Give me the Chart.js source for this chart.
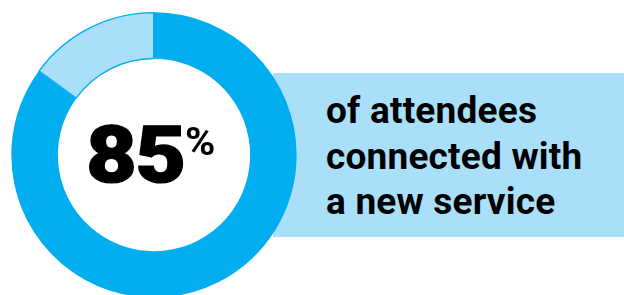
<!DOCTYPE html>
<html>
<head>
<meta charset="utf-8">
<script src="https://cdn.jsdelivr.net/npm/chart.js@4"></script>
<style>
  html, body { margin: 0; padding: 0; width: 624px; height: 295px; overflow: hidden; background: #fff; }
  #band { position: absolute; left: 273px; top: 73px; width: 351px; height: 164px; background: #A9DFF9; z-index: 0; }
  #wrap { position: absolute; left: 11px; top: 12px; width: 286px; height: 286px; z-index: 1; }
  .t { position: absolute; z-index: 2; font-family: Roboto, "Liberation Sans", sans-serif; color: #000; white-space: nowrap; }
  #big { left: 86px; top: 115px; font-size: 80px; line-height: 80px; font-weight: 900; letter-spacing: -1.5px; -webkit-text-stroke: 1.2px #000; transform: scaleX(1.1); transform-origin: left top; }
  #pct { left: 185px; top: 123px; font-size: 38px; line-height: 38px; font-weight: 700; transform: scaleX(1.08); transform-origin: left top; }
  #label { left: 326px; top: 88px; font-weight: 700; font-size: 37px; line-height: 45.5px; letter-spacing: 0.2px; }
</style>
</head>
<body>
<div id="band"></div>
<div id="wrap"><canvas id="c" width="286" height="286"></canvas></div>
<div id="big" class="t"></div>
<div id="pct" class="t">%</div>
<div id="label" class="t"></div>
<script>
const categories = ["Connected with a new service", "Did not"];
const values = [85, 15];
const labelLines = ["of attendees", "connected with", "a new service"];

document.getElementById('big').textContent = String(values[0]);
const lab = document.getElementById('label');
labelLines.forEach((s, i) => {
  if (i) lab.appendChild(document.createElement('br'));
  lab.appendChild(document.createTextNode(s));
});

new Chart(document.getElementById('c'), {
  type: 'doughnut',
  data: {
    labels: categories,
    datasets: [{
      data: values,
      backgroundColor: ['#00AEEF', '#A9DFF9'],
      borderColor: ['#00AEEF', '#00AEEF'],
      borderWidth: [0, 1],
      borderAlign: 'inner'
    }]
  },
  options: {
    responsive: false,
    devicePixelRatio: 1,
    animation: false,
    cutout: '67%',
    rotation: 0,
    layout: { padding: 0 },
    plugins: { legend: { display: false }, tooltip: { enabled: false } }
  }
});
</script>
</body>
</html>
